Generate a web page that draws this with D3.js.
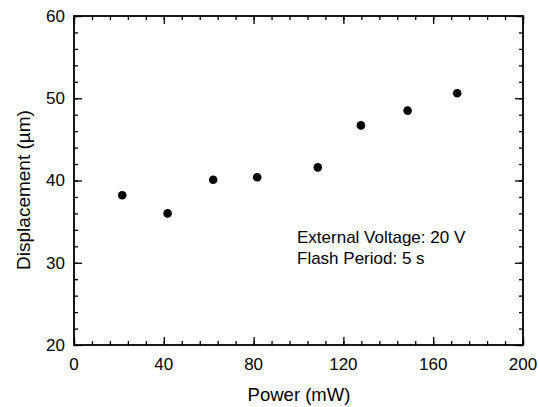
<!DOCTYPE html>
<html>
<head>
<meta charset="utf-8">
<script src="https://cdn.jsdelivr.net/npm/d3@7"></script>
<style>
  body { margin: 0; background: #fff; }
  text { font-family: "Liberation Sans", Arial, sans-serif; fill: #000; }
</style>
</head>
<body>
<div id="chart"></div>
<script>
// data
const power = [21.5, 41.7, 62.0, 81.6, 108.6, 127.8, 148.6, 170.7];
const displacement = [38.2, 36.0, 40.1, 40.4, 41.6, 46.7, 48.5, 50.6];
const xTicks = [0, 40, 80, 120, 160, 200];
const yTicks = [20, 30, 40, 50, 60];
const notes = ['External Voltage: 20 V', 'Flash Period: 5 s'];

const width = 538, height = 407;
const margin = { top: 16, right: 15, bottom: 62, left: 74 };
const w = width - margin.left - margin.right;
const h = height - margin.top - margin.bottom;

const svg = d3.select('#chart').append('svg')
  .attr('width', width).attr('height', height);
const g = svg.append('g').attr('transform', `translate(${margin.left},${margin.top})`);

const x = d3.scaleLinear().domain([0, 200]).range([0, w]);
const y = d3.scaleLinear().domain([20, 60]).range([h, 0]);

const xMinor = d3.range(0, 201, 8);
const yMinor = d3.range(20, 61, 2);

// ticks on all four sides, pointing in
function ticks(axis, vals, size, tr) {
  g.append('g').attr('transform', tr)
    .call(axis.tickValues(vals).tickSize(size).tickFormat(''))
    .call(s => s.select('.domain').remove())
    .call(s => s.selectAll('line').attr('stroke-width', 1.3));
}
ticks(d3.axisTop(x), xMinor, 4, `translate(0,${h})`);
ticks(d3.axisBottom(x), xMinor, 4, 'translate(0,0)');
ticks(d3.axisRight(y), yMinor, 4, 'translate(0,0)');
ticks(d3.axisLeft(y), yMinor, 4, `translate(${w},0)`);
ticks(d3.axisTop(x), xTicks, 8, `translate(0,${h})`);
ticks(d3.axisBottom(x), xTicks, 8, 'translate(0,0)');
ticks(d3.axisRight(y), yTicks, 8, 'translate(0,0)');
ticks(d3.axisLeft(y), yTicks, 8, `translate(${w},0)`);

// frame
g.append('rect').attr('width', w).attr('height', h)
  .attr('fill', 'none').attr('stroke', '#000').attr('stroke-width', 1.8);

// tick labels
g.selectAll('.xl').data(xTicks).enter().append('text')
  .attr('x', d => x(d)).attr('y', h + 25)
  .attr('text-anchor', 'middle').attr('font-size', 17).text(d => d);
g.selectAll('.yl').data(yTicks).enter().append('text')
  .attr('x', -9).attr('y', d => y(d)).attr('dy', '0.35em')
  .attr('text-anchor', 'end').attr('font-size', 17).text(d => d);

// axis titles
svg.append('text').attr('x', 299).attr('y', 401)
  .attr('text-anchor', 'middle').attr('font-size', 18.5).text('Power (mW)');
svg.append('text').attr('transform', 'translate(30,190) rotate(-90)')
  .attr('text-anchor', 'middle').attr('font-size', 19).text('Displacement (\u00b5m)');

// points
g.selectAll('circle').data(power).enter().append('circle')
  .attr('cx', d => x(d)).attr('cy', (d, i) => y(displacement[i]))
  .attr('r', 4.3).attr('fill', '#000');

// annotation
g.selectAll('.note').data(notes).enter().append('text')
  .attr('x', 223).attr('y', (d, i) => 227 + i * 21)
  .attr('font-size', 17).text(d => d);
</script>
</body>
</html>
